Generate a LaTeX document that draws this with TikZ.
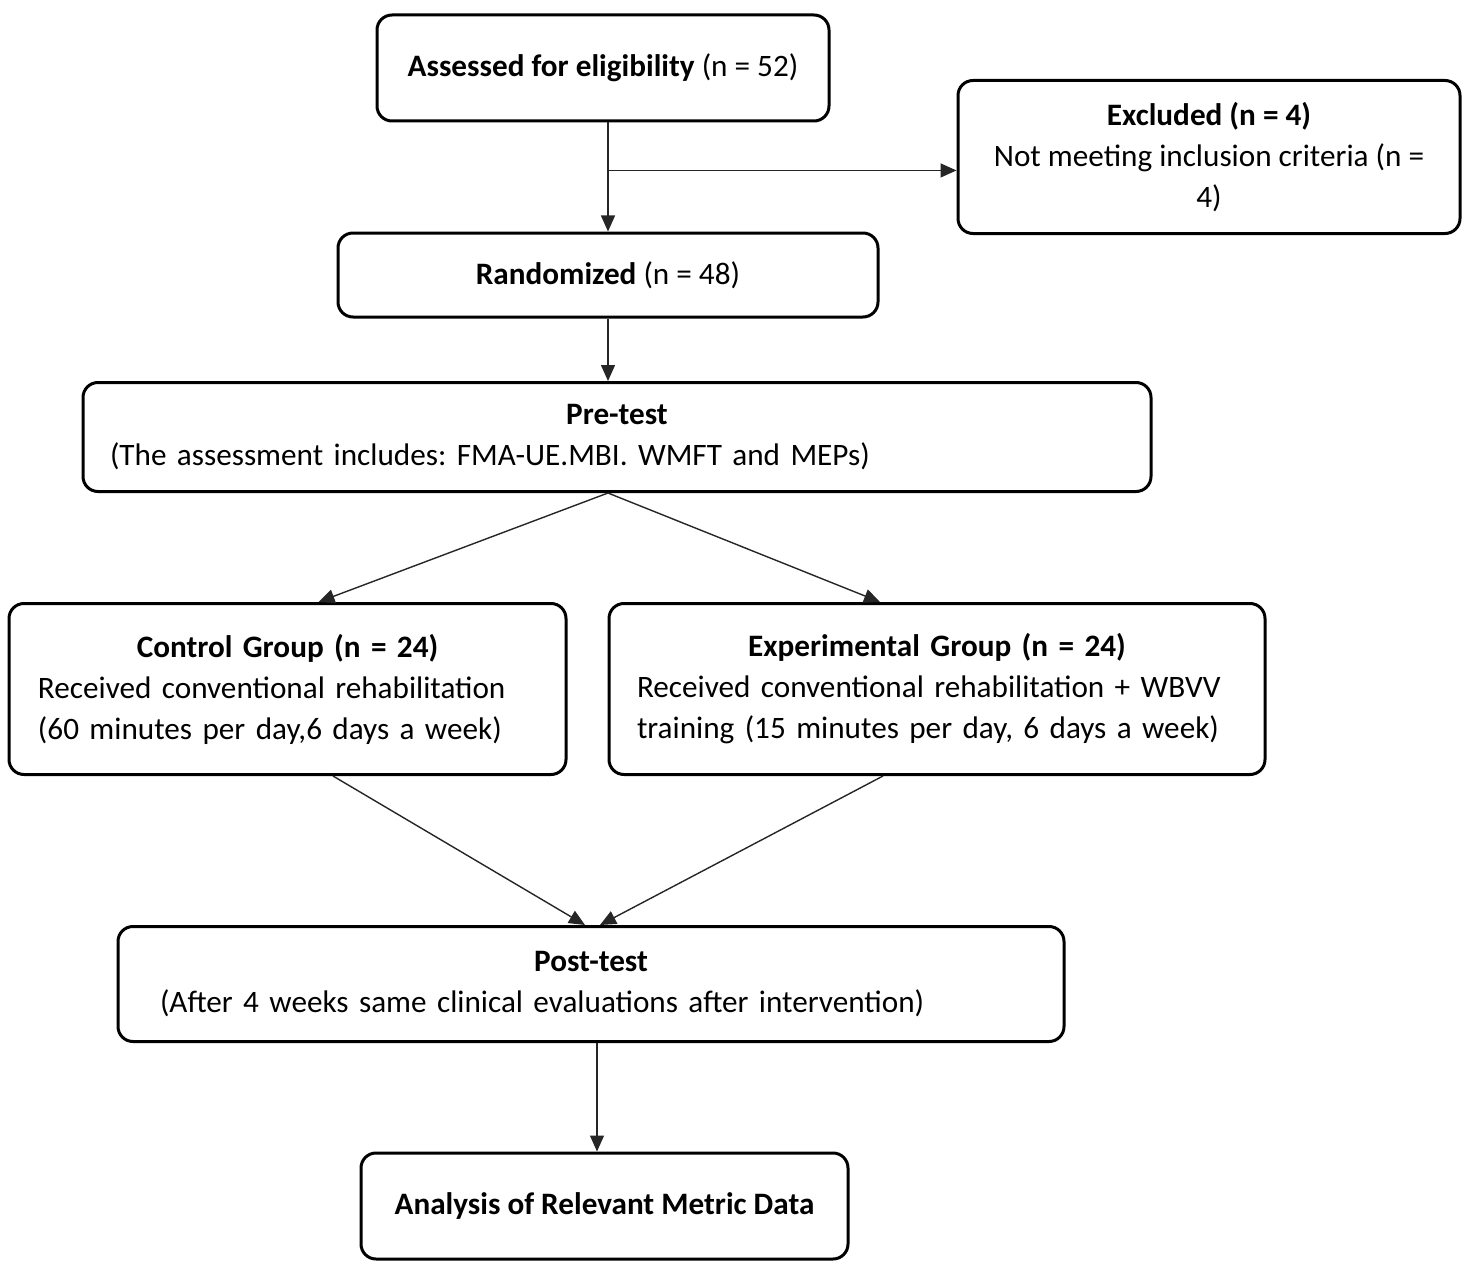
\documentclass[tikz,border=0pt]{standalone}
\usepackage{fontspec}
\setmainfont{Carlito}
\usetikzlibrary{arrows.meta,calc}

\tikzset{
  flowbox/.style={draw, rounded corners=7.5pt, line width=1.5pt, inner ysep=0pt,
    font=\fontsize{15.6pt}{20.5pt}\selectfont\frenchspacing},
  flowarrow/.style={line width=0.7pt, draw=black!85, -{Triangle[width=7pt, length=8pt]}}
}

\begin{document}
\begin{tikzpicture}[x=0.5pt, y=-0.5pt]

  \useasboundingbox (0,0) rectangle (1479,1284);

  % -- Screening --
  \node[flowbox, minimum width=226pt, minimum height=53pt, align=center] (assess) at (603,68)
    {\textbf{Assessed for eligibility} (n = 52)};
  \node[flowbox, minimum width=251pt, minimum height=76.5pt, align=center] (excl) at (1209,157)
    {\textbf{Excluded (n = 4)}\\Not meeting inclusion criteria (n =\\4)};
  \node[flowbox, minimum width=270pt, minimum height=42pt, align=center] (rand) at (608,275)
    {\textbf{Randomized} (n = 48)};

  % -- Baseline --
  \node[flowbox, inner xsep=13.5pt, text width=507pt, minimum height=54.5pt, align=left] (pre) at (617,437)
    {{\centering\textbf{Pre-test}\par}(The assessment includes: FMA-UE.MBI. WMFT and MEPs)};

  % -- Groups --
  \node[flowbox, inner xsep=14.5pt, text width=249.5pt, minimum height=85.5pt, align=left] (ctrl) at (287.5,689)
    {{\centering\textbf{Control Group (n = 24)}\par}Received conventional rehabilitation\\(60 minutes per day,6 days a week)};
  \node[flowbox, inner xsep=14pt, text width=300pt, minimum height=85.5pt, align=left] (exp) at (937,689)
    {{\centering\textbf{Experimental Group (n = 24)}\par}Received conventional rehabilitation + WBVV\\training (15 minutes per day, 6 days a week)};

  % -- Follow-up --
  \node[flowbox, inner xsep=21pt, text width=431pt, minimum height=57.5pt, align=left] (post) at (591,984)
    {{\centering\textbf{Post-test}\par}(After 4 weeks same clinical evaluations after intervention)};
  \node[flowbox, minimum width=243.5pt, minimum height=53pt, align=center] (anal) at (604.5,1206)
    {\textbf{Analysis of Relevant Metric Data}};

  % -- Connectors --
  \coordinate (fork) at (assess.south -| rand.north);
  \coordinate (branch) at ($(fork)!0.44!(rand.north)$);
  \draw[flowarrow] (fork) -- (rand.north);
  \draw[flowarrow] (branch) -- (branch -| excl.west);
  \draw[flowarrow] (rand.south) -- (rand.south |- pre.north);

  \coordinate (split) at (rand.south |- pre.south);
  \draw[flowarrow] (split) -- ([xshift=15.5pt]ctrl.north);
  \draw[flowarrow] (split) -- ([xshift=-28.5pt]exp.north);

  \draw[flowarrow] ([xshift=22.75pt]ctrl.south) -- ([xshift=-3pt]post.north);
  \draw[flowarrow] ([xshift=-27pt]exp.south) -- ([xshift=4.5pt]post.north);

  \coordinate (join) at ([xshift=3pt]post.south);
  \draw[flowarrow] (join) -- (join |- anal.north);

\end{tikzpicture}
\end{document}
